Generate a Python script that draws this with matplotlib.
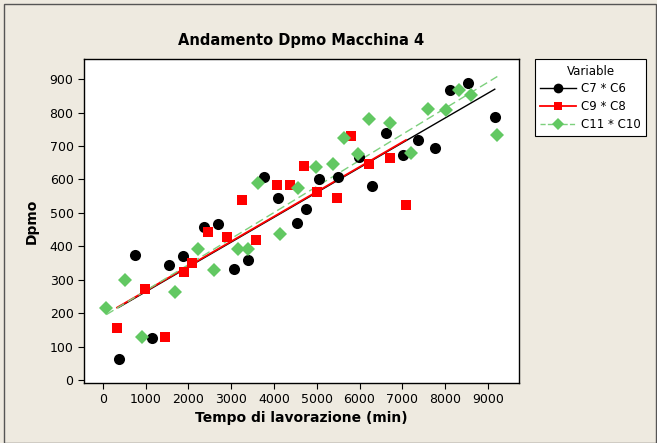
import matplotlib
matplotlib.use("Agg")
import matplotlib.pyplot as plt
import numpy as np
from matplotlib.patches import Rectangle
from matplotlib.lines import Line2D

# Data
c6_x = [370, 760, 1140, 1540, 1870, 2375, 2695, 3070, 3395, 3775, 4085, 4530,
        4750, 5060, 5495, 5995, 6300, 6610, 7010, 7360, 7760, 8105, 8535, 9160]
c6_y = [62, 375, 125, 345, 372, 458, 466, 331, 358, 606, 545, 471,
        512, 600, 608, 666, 581, 738, 673, 718, 694, 868, 887, 786]

c8_x = [335, 980, 1455, 1905, 2095, 2470, 2895, 3265, 3590, 4065, 4370, 4705,
        5005, 5480, 5800, 6230, 6715, 7085]
c8_y = [155, 271, 128, 323, 350, 443, 429, 538, 419, 582, 582, 641,
        562, 545, 731, 645, 665, 524]

c10_x = [85, 520, 910, 1695, 2225, 2600, 3160, 3390, 3635, 4140, 4570, 4975,
         5375, 5645, 5965, 6230, 6715, 7195, 7595, 8020, 8335, 8605, 9220]
c10_y = [216, 299, 128, 264, 391, 329, 391, 391, 590, 436, 573, 638,
         645, 723, 675, 780, 768, 678, 810, 807, 866, 852, 733]

x_ticks = [0, 1000, 2000, 3000, 4000, 5000, 6000, 7000, 8000, 9000]
y_ticks = [0, 100, 200, 300, 400, 500, 600, 700, 800, 900]

bg = "#EEEAE0"
green = "#62C862"

fig = plt.figure(figsize=(6.57, 4.43), dpi=100, facecolor=bg)
fig.patches.append(Rectangle((0.006, 0.0), 0.992, 0.99, transform=fig.transFigure,
                             fill=False, edgecolor="#555555", linewidth=1.0))

ax = fig.add_axes([0.1279, 0.1354, 0.6621, 0.7314])
ax.set_facecolor("white")

series = [
    (c6_x, c6_y, "black", "black", "o", 8, "-", 1.0, "C7 * C6"),
    (c8_x, c8_y, "#FF0000", "#FF0000", "s", 7, "-", 1.3, "C9 * C8"),
    (c10_x, c10_y, green, "#7DD07D", "D", 7, "--", 1.0, "C11 * C10"),
]

handles = []
for xs, ys, col, lcol, mk, ms, ls, lw, lab in series:
    xs = np.array(xs, dtype=float)
    ys = np.array(ys, dtype=float)
    ax.plot(xs, ys, linestyle="none", marker=mk, markersize=ms,
            color=col, markeredgewidth=0, zorder=3)
    # fitted regression line over the range of each series
    b, a = np.polyfit(xs, ys, 1)
    xl = np.array([xs.min(), xs.max()])
    line, = ax.plot(xl, a + b * xl, linestyle=ls, color=lcol, linewidth=lw, zorder=2)
    if ls == "--":
        line.set_dashes((6, 3))
    handles.append(Line2D([0], [0], color=lcol, linestyle=ls, linewidth=lw,
                          marker=mk, markersize=ms - 1, markerfacecolor=col,
                          markeredgewidth=0, label=lab))

ax.set_xlim(-437, 9727)
ax.set_ylim(-9, 960)
ax.set_xticks(x_ticks)
ax.set_yticks(y_ticks)
ax.tick_params(direction="out", length=4, labelsize=9, colors="black")
for s in ax.spines.values():
    s.set_linewidth(1.0)

ax.set_title("Andamento Dpmo Macchina 4", fontsize=10.5, fontweight="bold", pad=10)
ax.set_xlabel("Tempo di lavorazione (min)", fontsize=10, fontweight="bold", labelpad=3)
ax.set_ylabel("Dpmo", fontsize=10, fontweight="bold", labelpad=8)

leg = fig.legend(handles=handles, title="Variable", loc="upper left",
                 bbox_to_anchor=(0.814, 0.866), fontsize=8.5, title_fontsize=8.5,
                 frameon=True, fancybox=False, edgecolor="black", framealpha=1,
                 handlelength=3.0, handletextpad=0.5, borderpad=0.45,
                 labelspacing=0.4, borderaxespad=0)
leg.get_frame().set_linewidth(0.8)

fig.savefig("out.png", dpi=100, facecolor=bg)
